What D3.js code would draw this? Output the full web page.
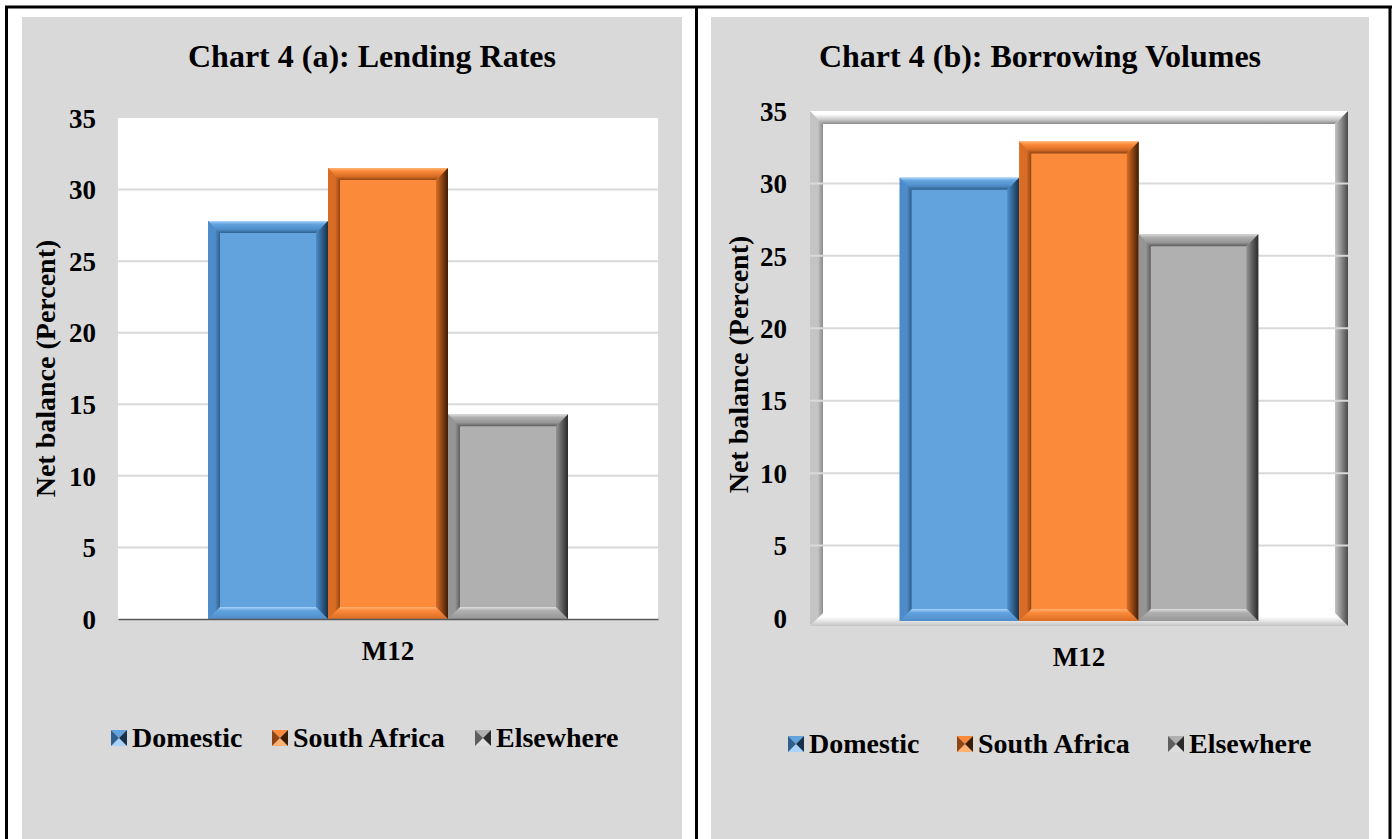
<!DOCTYPE html>
<html>
<head>
<meta charset="utf-8">
<script src="https://cdn.jsdelivr.net/npm/d3@7"></script>
<style>
  html, body { margin: 0; padding: 0; background: #fff; }
  svg { display: block; font-family: "Liberation Serif", "Times New Roman", serif; font-weight: bold; }
</style>
</head>
<body>
<svg id="chart" width="1395" height="839"></svg>
<script>
const categories = ['M12'];
const seriesNames = ['Domestic', 'South Africa', 'Elsewhere'];
const lendingRates = [27.8, 31.5, 14.3];
const borrowingVolumes = [30.4, 32.9, 26.5];
const yTicks = [0, 5, 10, 15, 20, 25, 30, 35];

const palette = {
    'Domestic':     { face: '#62a3de', hi: '#a9d3fa', mid: '#4d8cc8', dark: '#2f5f8c', vdark: '#17314a' },
    'South Africa': { face: '#fb8a3b', hi: '#ffb272', mid: '#d96d25', dark: '#8f4514', vdark: '#3d1c05' },
    'Elsewhere':    { face: '#b0b0b0', hi: '#dedede', mid: '#959595', dark: '#5e5e5e', vdark: '#2a2a2a' }
};
const framePal = { face: '#ffffff', hi: '#ffffff', mid: '#c4c4c4', dark: '#8a8a8a', vdark: '#4a4a4a' };

const svg = d3.select('#chart');
const defs = svg.append('defs');

function makeGradients(key, c) {
    const grads = {
        top:    { x2: 0, y2: 1, stops: [[0, c.hi], [0.25, c.face], [0.7, c.mid], [1, c.dark]] },
        bottom: { x2: 0, y2: 1, stops: [[0, c.hi], [0.3, c.face], [1, c.mid]] },
        left:   { x2: 1, y2: 0, stops: [[0, c.mid], [0.6, c.mid], [1, c.dark]] },
        right:  { x2: 1, y2: 0, stops: [[0, c.mid], [0.5, c.dark], [1, c.vdark]] }
    };
    Object.entries(grads).forEach(([side, g]) => {
        const lg = defs.append('linearGradient')
            .attr('id', `g-${key}-${side}`)
            .attr('x1', 0).attr('y1', 0).attr('x2', g.x2).attr('y2', g.y2);
        g.stops.forEach(s => lg.append('stop').attr('offset', s[0]).attr('stop-color', s[1]));
    });
}
seriesNames.forEach((s, i) => makeGradients('s' + i, palette[s]));
makeGradients('frame', framePal);

function bevelRect(g, x, y, w, h, key, face, b) {
    g.append('rect').attr('x', x).attr('y', y).attr('width', w).attr('height', h).attr('fill', face);
    const sides = {
        top:    [[x, y], [x + w, y], [x + w - b, y + b], [x + b, y + b]],
        bottom: [[x + b, y + h - b], [x + w - b, y + h - b], [x + w, y + h], [x, y + h]],
        left:   [[x, y], [x + b, y + b], [x + b, y + h - b], [x, y + h]],
        right:  [[x + w - b, y + b], [x + w, y], [x + w, y + h], [x + w - b, y + h - b]]
    };
    Object.entries(sides).forEach(([side, pts]) => {
        g.append('polygon')
            .attr('points', pts.map(p => p.join(',')).join(' '))
            .attr('fill', `url(#g-${key}-${side})`);
    });
}

// table borders and panel backgrounds
svg.append('rect').attr('x', 22).attr('y', 17).attr('width', 660).attr('height', 822).attr('fill', '#d9d9d9');
svg.append('rect').attr('x', 711).attr('y', 17).attr('width', 658).attr('height', 822).attr('fill', '#d9d9d9');
svg.append('line').attr('x1', 5).attr('x2', 1392).attr('y1', 7).attr('y2', 7).attr('stroke', '#000').attr('stroke-width', 3);
[6.5, 696.5, 1390].forEach(x => {
    svg.append('line').attr('x1', x).attr('x2', x).attr('y1', 6).attr('y2', 839).attr('stroke', '#000').attr('stroke-width', 3);
});

function drawPanel(cfg) {
    const g = svg.append('g');
    const y = d3.scaleLinear().domain([0, 35]).range([cfg.bottom, cfg.top]);
    const x0 = d3.scaleBand().domain(categories).range([cfg.left, cfg.right]).paddingInner(0).paddingOuter(0.25);
    const x1 = d3.scaleBand().domain(seriesNames).range([0, x0.bandwidth()]).padding(0);

    if (cfg.framed) {
        bevelRect(g, cfg.left, cfg.top, cfg.right - cfg.left, cfg.frameBottom - cfg.top, 'frame', '#ffffff', 13);
    } else {
        g.append('rect').attr('x', cfg.left).attr('y', cfg.top)
            .attr('width', cfg.right - cfg.left).attr('height', cfg.bottom - cfg.top).attr('fill', '#fff');
    }

    // gridlines
    g.append('g').selectAll('line').data(yTicks.filter(d => d > 0 && d < 35)).join('line')
        .attr('x1', cfg.left).attr('x2', cfg.right)
        .attr('y1', d => y(d)).attr('y2', d => y(d))
        .attr('stroke', '#d9d9d9').attr('stroke-width', 2);

    // bars
    categories.forEach(cat => {
        seriesNames.forEach((s, i) => {
            const v = cfg.values[i];
            const bx = x0(cat) + x1(s);
            const by = y(v);
            bevelRect(g, bx, by, x1.bandwidth(), cfg.barBottom - by, 's' + i, palette[s].face, 12);
        });
    });

    // y axis
    const yAxis = g.append('g')
        .attr('transform', `translate(${cfg.tickX},0)`)
        .call(d3.axisLeft(y).tickValues(yTicks).tickSize(0).tickPadding(0));
    yAxis.select('.domain').remove();
    yAxis.selectAll('text')
        .attr('font-family', '"Liberation Serif", serif').attr('font-weight', 'bold')
        .attr('font-size', 27).attr('fill', '#000').attr('dy', '0.34em');

    // x axis
    const xAxis = g.append('g')
        .attr('transform', `translate(0,${cfg.bottom})`)
        .call(d3.axisBottom(x0).tickSize(0).tickPadding(0).tickSizeOuter(0));
    if (cfg.framed) {
        xAxis.select('.domain').remove();
    } else {
        xAxis.select('.domain').attr('stroke', '#595959').attr('stroke-width', 1.5);
    }
    xAxis.selectAll('text')
        .attr('font-family', '"Liberation Serif", serif').attr('font-weight', 'bold')
        .attr('font-size', 27).attr('fill', '#000')
        .attr('y', cfg.catY - cfg.bottom).attr('dy', 0);

    // titles
    g.append('text').attr('x', cfg.titleX).attr('y', 67).attr('text-anchor', 'middle')
        .attr('font-size', 32).text(cfg.title);
    g.append('text')
        .attr('transform', `translate(${cfg.axisTitleX},${(cfg.top + cfg.bottom) / 2}) rotate(-90)`)
        .attr('text-anchor', 'middle').attr('dy', '0.34em')
        .attr('font-size', 28).text('Net balance (Percent)');

    // legend
    const lg = g.append('g');
    seriesNames.forEach((s, i) => {
        const lx = cfg.legendX[i];
        const ly = cfg.legendY;
        const c = palette[s];
        const sz = 16, cx = lx + sz / 2, cy = ly - sz / 2;
        const tri = [
            [[lx, ly - sz], [lx + sz, ly - sz], [cx, cy]],
            [[lx, ly], [lx + sz, ly], [cx, cy]],
            [[lx, ly - sz], [lx, ly], [cx, cy]],
            [[lx + sz, ly - sz], [lx + sz, ly], [cx, cy]]
        ];
        const fills = [c.face, c.hi, c.dark, c.vdark];
        tri.forEach((t, k) => {
            lg.append('polygon').attr('points', t.map(p => p.join(',')).join(' ')).attr('fill', fills[k]);
        });
        lg.append('text').attr('x', lx + sz + 5).attr('y', ly + 1)
            .attr('font-size', 28).text(s);
    });
}

drawPanel({
    title: 'Chart 4 (a): Lending Rates', titleX: 372,
    values: lendingRates,
    left: 118, right: 658, top: 118, bottom: 619, barBottom: 619,
    framed: false, tickX: 96, axisTitleX: 45, catY: 660,
    legendX: [111, 272, 475], legendY: 746
});

drawPanel({
    title: 'Chart 4 (b): Borrowing Volumes', titleX: 1040,
    values: borrowingVolumes,
    left: 810, right: 1348, top: 111, bottom: 618, barBottom: 621, frameBottom: 626,
    framed: true, tickX: 787, axisTitleX: 738, catY: 666,
    legendX: [788, 957, 1168], legendY: 752
});
</script>
</body>
</html>
